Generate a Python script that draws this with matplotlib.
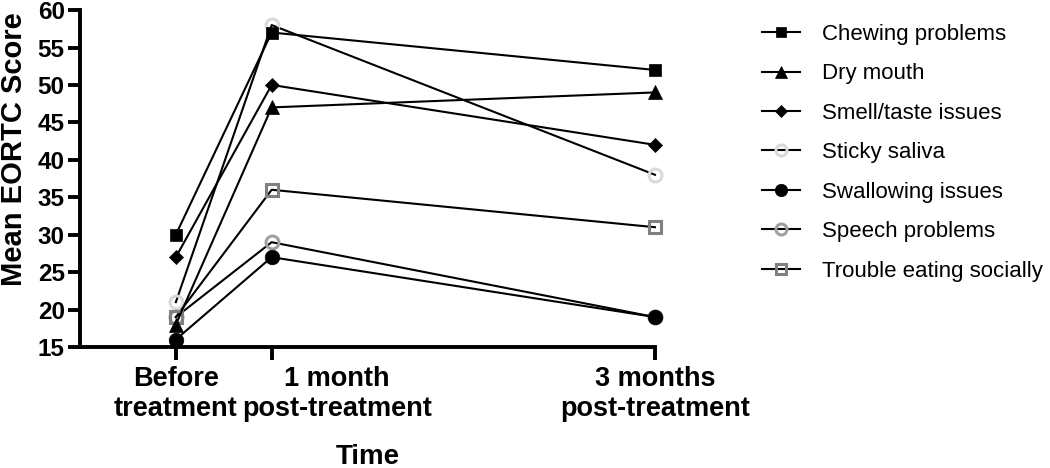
import matplotlib
matplotlib.use("Agg")
import matplotlib.pyplot as plt

plt.rcParams['font.family'] = ['Liberation Sans', 'DejaVu Sans']

time_labels = ["Before\ntreatment", "1 month\npost-treatment", "3 months\npost-treatment"]
time_pos = [0, 1, 5]

series_names = ["Chewing problems", "Dry mouth", "Smell/taste issues", "Sticky saliva",
                "Swallowing issues", "Speech problems", "Trouble eating socially"]
chewing = [30, 57, 52]
dry_mouth = [18, 47, 49]
smell_taste = [27, 50, 42]
sticky_saliva = [21, 58, 38]
swallowing = [16, 27, 19]
speech = [19, 29, 19]
trouble_eating = [19, 36, 31]

series_values = [chewing, dry_mouth, smell_taste, sticky_saliva, swallowing, speech, trouble_eating]

styles = [
    dict(marker='s', mfc='black', mec='black', ms=9, mew=0.5, zorder=3),
    dict(marker='^', mfc='black', mec='black', ms=9.5, mew=0.5, zorder=3),
    dict(marker='D', mfc='black', mec='black', ms=6.8, mew=0.5, zorder=3),
    dict(marker='o', mfc='none', mec='#d9d9d9', ms=9.3, mew=2.2, zorder=2.5),
    dict(marker='o', mfc='black', mec='black', ms=10.5, mew=0.5, zorder=3.2),
    dict(marker='o', mfc='none', mec='#a0a0a0', ms=9.3, mew=2.2, zorder=2.6),
    dict(marker='s', mfc='none', mec='#808080', ms=9.3, mew=2.2, zorder=2.7),
]

TICK_FS = 19.5
TICK_LEN = 9
TICK_PAD = 5

fig = plt.figure(figsize=(10.5, 4.68), dpi=100)
ax = fig.add_axes([0.0762, 0.2585, 0.5476, 0.72])

handles = []
for name, vals, st in zip(series_names, series_values, styles):
    h, = ax.plot(time_pos, vals, color='black', lw=1.5, label=name, clip_on=False, **st)
    handles.append(h)

ax.set_xlim(-1, 5)
ax.set_ylim(15, 60)
ax.set_yticks(range(15, 61, 5))
ax.set_xticks(time_pos)
# the middle label is drawn shifted to the right (as in the reference)
ax.set_xticklabels([time_labels[0], "", time_labels[2]], fontsize=TICK_FS,
                   fontweight='bold', linespacing=1.2)
ax.annotate(time_labels[1], xy=(time_pos[1], 0), xycoords=('data', 'axes fraction'),
            xytext=(47, -(TICK_LEN + TICK_PAD)), textcoords='offset points',
            ha='center', va='top', fontsize=TICK_FS, fontweight='bold',
            linespacing=1.2, annotation_clip=False)
for t in ax.get_yticklabels():
    t.set_fontsize(17.5)
    t.set_fontweight('bold')

for s in ['top', 'right']:
    ax.spines[s].set_visible(False)
for s in ['left', 'bottom']:
    ax.spines[s].set_linewidth(2.8)
ax.tick_params(axis='both', width=2.8, length=TICK_LEN, direction='out')
ax.tick_params(axis='y', pad=2)
ax.tick_params(axis='x', pad=TICK_PAD)

ax.set_ylabel("Mean EORTC Score", fontsize=21, fontweight='bold')
ax.yaxis.set_label_coords(-0.091, 0.5875)
ax.set_xlabel("Time", fontsize=20, fontweight='bold', labelpad=15.5)

fig.legend(handles=handles, loc='upper left', bbox_to_anchor=(0.726, 0.949),
           frameon=False, fontsize=16, handlelength=1.7, labelspacing=0.83,
           handletextpad=1.0, borderaxespad=0, borderpad=0, markerscale=0.85)

fig.savefig("out.png", dpi=100)
